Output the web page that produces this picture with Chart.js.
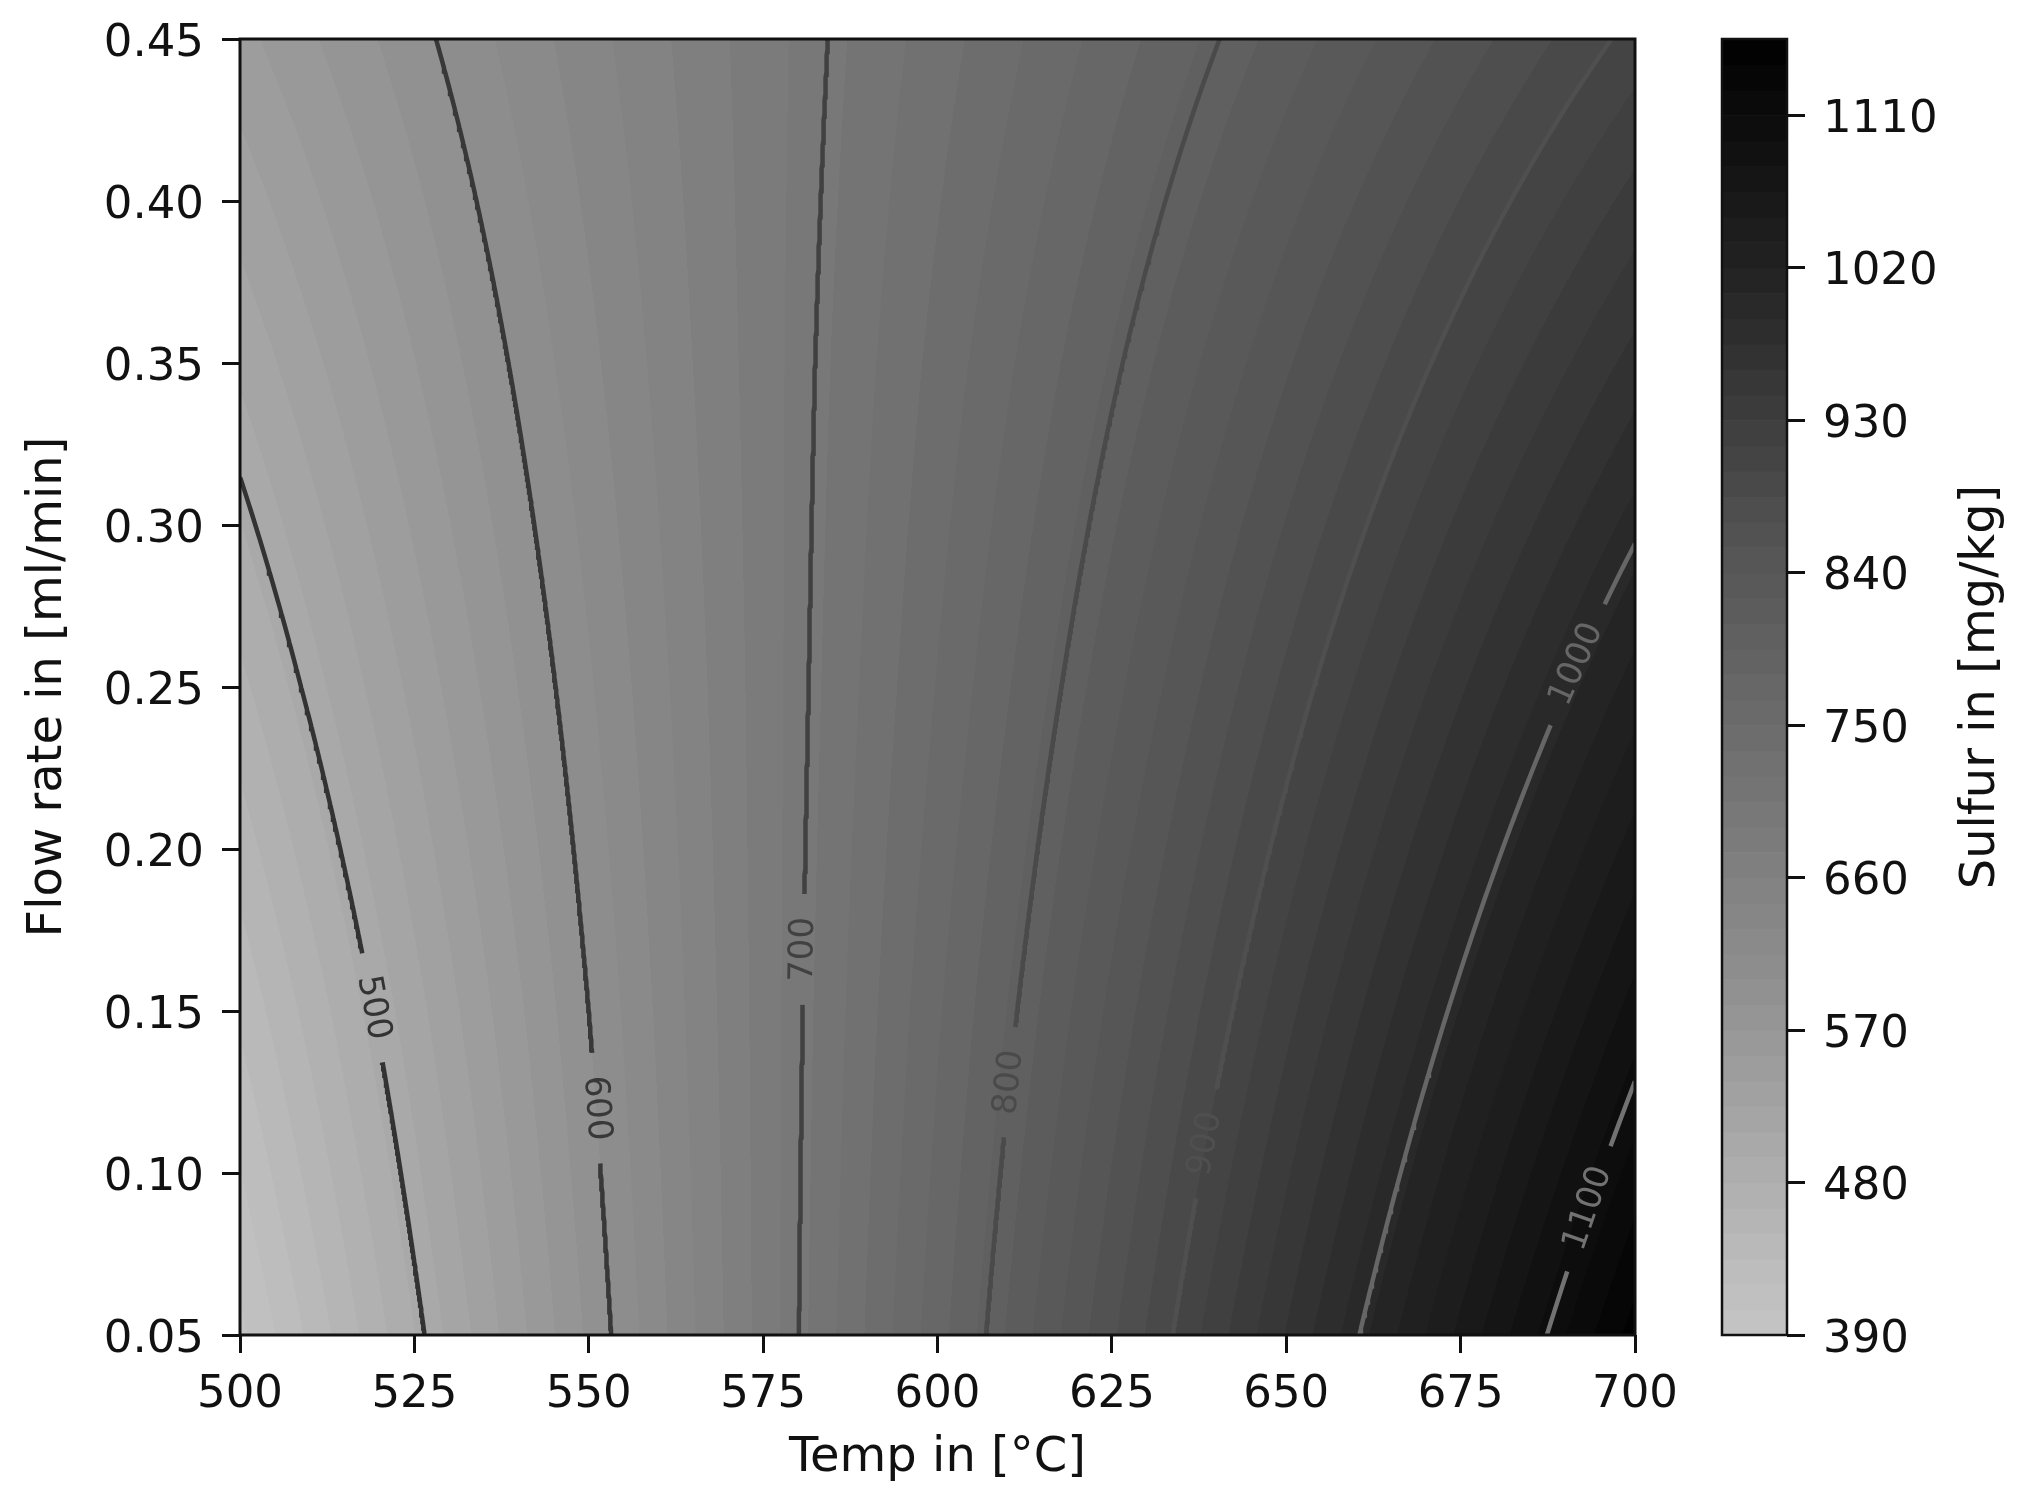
<!DOCTYPE html>
<html>
<head>
<meta charset="utf-8">
<title>Sulfur contour</title>
<script src="https://cdn.jsdelivr.net/npm/chart.js@4.4.1/dist/chart.umd.min.js"></script>
<style>
  html, body { margin: 0; padding: 0; background: #fff; }
  canvas { display: block; }
</style>
</head>
<body>
<canvas id="contourChart" width="2038" height="1506"></canvas>
<script>
// sulfur (mg/kg): one row per flow rate, one column per temperature
const temps = [500, 550, 600, 650, 700];
const flowRates = [0.05, 0.15, 0.25, 0.35, 0.45];
const sulfur = [
    [401, 588, 774, 961, 1147],
    [438, 600, 763, 925, 1087],
    [476, 613, 751, 889, 1027],
    [513, 626, 740, 853, 966],
    [550, 639, 728, 817, 906]
];

// contour lines and where their inline labels sit (flow rate)
const lineLevels = [500, 600, 700, 800, 900, 1000, 1100];
const lineColors = ['#333333', '#383838', '#414141', '#4a4a4a', '#4f4f4f', '#666666', '#727272'];
const labelFlows = [0.151, 0.120, 0.169, 0.128, 0.109, 0.257, 0.089];

// filled bands
const fillMin = 390, fillMax = 1155, fillStep = 15;

const tempTicks = [500, 525, 550, 575, 600, 625, 650, 675, 700];
const flowTicks = [0.05, 0.10, 0.15, 0.20, 0.25, 0.30, 0.35, 0.40, 0.45];
const colorbarTicks = [390, 480, 570, 660, 750, 840, 930, 1020, 1110];

const FONT = 'DejaVu Sans';
const TEXT = '#111';

function bracket(arr, v) {
    let i = 0;
    while (i < arr.length - 2 && v > arr[i + 1]) i++;
    return [i, (v - arr[i]) / (arr[i + 1] - arr[i])];
}

function sulfurAt(t, f) {
    const [i, u] = bracket(temps, t);
    const [j, w] = bracket(flowRates, f);
    const a = sulfur[j][i], b = sulfur[j][i + 1];
    const c = sulfur[j + 1][i], d = sulfur[j + 1][i + 1];
    return (a * (1 - u) + b * u) * (1 - w) + (c * (1 - u) + d * u) * w;
}

// matplotlib "Greys", used from about a third of the way in
const greys = [255, 240, 217, 189, 150, 115, 82, 37, 0];
function grey(p) {
    const s = Math.max(0, Math.min(1, p)) * 8;
    const i = Math.min(7, Math.floor(s));
    return greys[i] + (greys[i + 1] - greys[i]) * (s - i);
}
const nBands = Math.round((fillMax - fillMin) / fillStep);
const bandGrey = [];
for (let k = 0; k < nBands; k++) {
    bandGrey.push(Math.round(grey(0.344 + 0.656 * (k + 0.5) / nBands)));
}
function bandOf(z) {
    return Math.max(0, Math.min(nBands - 1, Math.floor((z - fillMin) / fillStep)));
}

const tMin = tempTicks[0], tMax = tempTicks[tempTicks.length - 1];
const fMin = flowTicks[0], fMax = flowTicks[flowTicks.length - 1];

function solveTemp(level, f) {
    let lo = tMin, hi = tMax;
    if (sulfurAt(lo, f) > level || sulfurAt(hi, f) < level) return null;
    for (let n = 0; n < 40; n++) {
        const mid = (lo + hi) / 2;
        if (sulfurAt(mid, f) < level) lo = mid; else hi = mid;
    }
    return (lo + hi) / 2;
}

function solveFlowOnEdge(level, t, f0, f1) {
    let lo = f0, hi = f1;
    const s0 = sulfurAt(t, f0) - level;
    for (let n = 0; n < 40; n++) {
        const mid = (lo + hi) / 2;
        const s = sulfurAt(t, mid) - level;
        if ((s < 0) === (s0 < 0)) lo = mid; else hi = mid;
    }
    return (lo + hi) / 2;
}

// walk up the flow axis; sulfur rises with temperature on every row
function contourPoints(level) {
    const pts = [];
    const steps = 400;
    let prev = null;
    for (let k = 0; k <= steps; k++) {
        const f = fMin + (fMax - fMin) * k / steps;
        const t = solveTemp(level, f);
        if (prev !== null && (t === null) !== (prev.t === null)) {
            const fOut = t === null ? f : prev.f;
            const edgeT = sulfurAt(tMin, fOut) > level ? tMin : tMax;
            pts.push({ x: edgeT, y: solveFlowOnEdge(level, edgeT, prev.f, f) });
        }
        if (t !== null) pts.push({ x: t, y: f });
        prev = { t: t, f: f };
    }
    return pts;
}

const datasets = lineLevels.map(function (lv, i) {
    return {
        label: String(lv),
        data: contourPoints(lv),
        showLine: true,
        borderColor: lineColors[i],
        borderWidth: 4.5,
        pointRadius: 0,
        tension: 0
    };
});

// label position + rotation along its line, in pixels
function labelGeom(chart, i) {
    const xs = chart.scales.x, ys = chart.scales.y;
    const pts = chart.data.datasets[i].data;
    let best = 0;
    for (let k = 1; k < pts.length; k++) {
        if (Math.abs(pts[k].y - labelFlows[i]) < Math.abs(pts[best].y - labelFlows[i])) best = k;
    }
    const a = pts[Math.max(0, best - 4)], b = pts[Math.min(pts.length - 1, best + 4)];
    const dx = xs.getPixelForValue(b.x) - xs.getPixelForValue(a.x);
    const dy = ys.getPixelForValue(b.y) - ys.getPixelForValue(a.y);
    let ang = Math.atan2(dy, dx);
    if (ang > Math.PI / 2) ang -= Math.PI;
    if (ang <= -Math.PI / 2) ang += Math.PI;
    return {
        x: xs.getPixelForValue(pts[best].x),
        y: ys.getPixelForValue(pts[best].y),
        angle: ang
    };
}

const labelFont = '34px "' + FONT + '"';
const labelGap = 23;

const contourPlugin = {
    id: 'contourFill',
    beforeDatasetsDraw(chart) {
        const ca = chart.chartArea;
        const xs = chart.scales.x, ys = chart.scales.y;
        const w = Math.round(ca.right - ca.left), h = Math.round(ca.bottom - ca.top);
        const off = document.createElement('canvas');
        off.width = w; off.height = h;
        const octx = off.getContext('2d');
        const img = octx.createImageData(w, h);
        const colT = [];
        for (let px = 0; px < w; px++) colT.push(xs.getValueForPixel(ca.left + px + 0.5));
        for (let py = 0; py < h; py++) {
            const f = ys.getValueForPixel(ca.top + py + 0.5);
            for (let px = 0; px < w; px++) {
                const g = bandGrey[bandOf(sulfurAt(colT[px], f))];
                const o = (py * w + px) * 4;
                img.data[o] = g; img.data[o + 1] = g; img.data[o + 2] = g; img.data[o + 3] = 255;
            }
        }
        octx.putImageData(img, 0, 0);
        chart.ctx.drawImage(off, ca.left, ca.top);
    },
    beforeDatasetDraw(chart, args) {
        const ctx = chart.ctx, ca = chart.chartArea;
        const g = labelGeom(chart, args.index);
        ctx.save();
        ctx.font = labelFont;
        const half = ctx.measureText(String(lineLevels[args.index])).width / 2 + labelGap;
        const hh = 20;
        const ux = Math.cos(g.angle), uy = Math.sin(g.angle);
        const nx = -uy, ny = ux;
        ctx.beginPath();
        ctx.rect(ca.left, ca.top, ca.right - ca.left, ca.bottom - ca.top);
        ctx.moveTo(g.x - ux * half - nx * hh, g.y - uy * half - ny * hh);
        ctx.lineTo(g.x + ux * half - nx * hh, g.y + uy * half - ny * hh);
        ctx.lineTo(g.x + ux * half + nx * hh, g.y + uy * half + ny * hh);
        ctx.lineTo(g.x - ux * half + nx * hh, g.y - uy * half + ny * hh);
        ctx.closePath();
        ctx.clip('evenodd');
    },
    afterDatasetDraw(chart) {
        chart.ctx.restore();
    },
    afterDatasetsDraw(chart) {
        const ctx = chart.ctx, ca = chart.chartArea;
        const cb = chart.scales.cb;

        // inline contour labels
        lineLevels.forEach(function (lv, i) {
            const g = labelGeom(chart, i);
            ctx.save();
            ctx.translate(g.x, g.y);
            ctx.rotate(g.angle);
            ctx.font = labelFont;
            ctx.fillStyle = lineColors[i];
            ctx.textAlign = 'center';
            ctx.textBaseline = 'middle';
            ctx.fillText(String(lv), 0, 0);
            ctx.restore();
        });

        // plot frame
        ctx.save();
        ctx.strokeStyle = TEXT;
        ctx.lineWidth = 3;
        ctx.strokeRect(ca.left, ca.top, ca.right - ca.left, ca.bottom - ca.top);

        // colorbar
        const cbRight = cb.left, cbLeft = cb.left - 65;
        for (let k = 0; k < nBands; k++) {
            const y0 = cb.getPixelForValue(fillMin + (k + 1) * fillStep);
            const y1 = cb.getPixelForValue(fillMin + k * fillStep);
            const g = bandGrey[k];
            ctx.fillStyle = 'rgb(' + g + ',' + g + ',' + g + ')';
            ctx.fillRect(cbLeft, y0, cbRight - cbLeft, y1 - y0 + 0.6);
        }
        ctx.lineWidth = 2.5;
        ctx.strokeRect(cbLeft, cb.top, cbRight - cbLeft, cb.bottom - cb.top);

        // colorbar title
        ctx.translate(cb.right - 56, (cb.top + cb.bottom) / 2);
        ctx.rotate(-Math.PI / 2);
        ctx.font = '48px "' + FONT + '"';
        ctx.fillStyle = TEXT;
        ctx.textAlign = 'center';
        ctx.textBaseline = 'middle';
        ctx.fillText('Sulfur in [mg/kg]', 0, 0);
        ctx.restore();
    }
};

function setTicks(values) {
    return function (scale) {
        scale.ticks = values.map(function (v) { return { value: v }; });
    };
}

// fixed box sizes; drop the label overhang padding so the plot keeps its place
function fixWidth(w) {
    return function (s) { s.width = w; s.paddingTop = 0; s.paddingBottom = 0; };
}
function fixHeight(h) {
    return function (s) { s.height = h; s.paddingLeft = 0; s.paddingRight = 0; };
}

const tickFont = { family: FONT, size: 45 };
const titleFont = { family: FONT, size: 48 };
const tickGrid = { drawOnChartArea: false, tickLength: 18, lineWidth: 3, tickWidth: 3, tickColor: TEXT };

const ctx = document.getElementById('contourChart').getContext('2d');
new Chart(ctx, {
    type: 'scatter',
    data: { datasets: datasets },
    options: {
        responsive: false,
        animation: false,
        devicePixelRatio: 1,
        events: [],
        layout: { padding: { top: 39, right: 0, bottom: 0, left: 0 } },
        plugins: { legend: { display: false }, tooltip: { enabled: false } },
        scales: {
            x: {
                type: 'linear', position: 'bottom', min: tMin, max: tMax,
                afterFit: fixHeight(171),
                afterBuildTicks: setTicks(tempTicks),
                grid: tickGrid,
                border: { display: false },
                ticks: {
                    font: tickFont, color: TEXT, padding: 15, maxRotation: 0, autoSkip: false,
                    callback: function (v) { return String(v); }
                },
                title: { display: true, text: 'Temp in [°C]', font: titleFont, color: TEXT, padding: { top: 0, bottom: 19 } }
            },
            y: {
                type: 'linear', position: 'left', min: fMin, max: fMax,
                afterFit: fixWidth(240),
                afterBuildTicks: setTicks(flowTicks),
                grid: tickGrid,
                border: { display: false },
                ticks: {
                    font: tickFont, color: TEXT, padding: 18, labelOffset: 5, autoSkip: false,
                    callback: function (v) { return Number(v).toFixed(2); }
                },
                title: { display: true, text: 'Flow rate in [ml/min]', font: titleFont, color: TEXT, padding: { top: 20, bottom: 0 } }
            },
            gap: {
                type: 'linear', position: 'right', weight: 1, display: true,
                afterFit: fixWidth(152),
                grid: { display: false },
                border: { display: false },
                ticks: { display: false }
            },
            cb: {
                type: 'linear', position: 'right', weight: 2, min: fillMin, max: fillMax,
                afterFit: fixWidth(251),
                afterBuildTicks: setTicks(colorbarTicks),
                grid: tickGrid,
                border: { display: false },
                ticks: {
                    font: tickFont, color: TEXT, padding: 18, labelOffset: 5, autoSkip: false,
                    callback: function (v) { return String(v); }
                }
            }
        }
    },
    plugins: [contourPlugin]
});
</script>
</body>
</html>
